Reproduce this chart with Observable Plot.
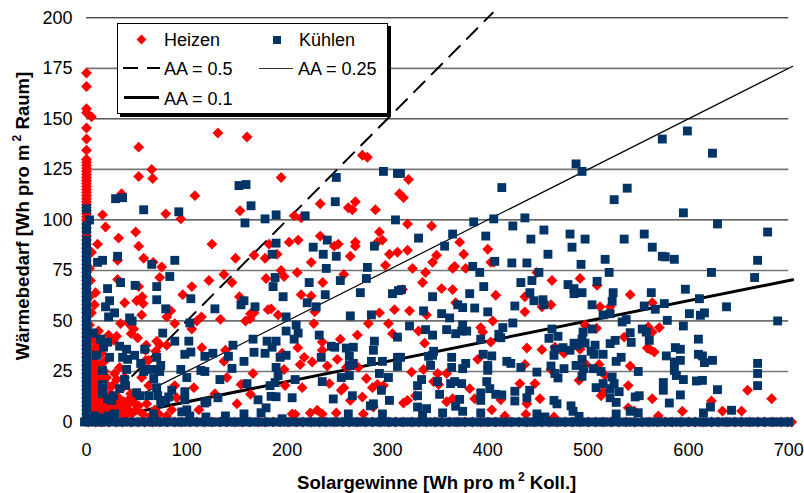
<!DOCTYPE html>
<html><head><meta charset="utf-8">
<script src="https://cdn.jsdelivr.net/npm/d3@7"></script>
<script src="https://cdn.jsdelivr.net/npm/@observablehq/plot@0.6"></script>
<style>
html,body{margin:0;padding:0;background:#fff}
#wrap{position:relative;width:804px;height:493px;font-family:"Liberation Sans",Arial,sans-serif;color:#000;overflow:hidden}
#wrap svg{position:absolute;left:0;top:0}
.t{position:absolute;white-space:nowrap;font-size:18px;line-height:18px}
.title{font-weight:bold;font-size:18.6px;line-height:18px;position:absolute;white-space:nowrap}
.title sup{font-size:12px;line-height:0;vertical-align:8px;margin-left:3px}
#legend{position:absolute;left:117px;top:23px;width:269px;height:89px;background:#fff;border:1px solid #000;box-shadow:3px 3px 0 #000}
.s{position:absolute}
</style></head><body><div id="wrap"></div>
<script>
const xTicks=[0,100,200,300,400,500,600,700];
const yBlack=[50,100,150,200];
const yGray=[25,75,125,175];
const yTicks=[0,25,50,75,100,125,150,175,200];
const lineAA05x=[28,405],lineAA05y=[14,202.5];
const lineAA025x=[28,704],lineAA025y=[7,176];
const lineAA01x=[40,704],lineAA01y=[4,70.4];

const heizenColumnY=[172.7,166,155,153,145.5,140,134.5,130,128.5,127,125.5,124,122.5,121,119.5,118,116.5,115,113.5,112,110.5,109,107.5,106,104.5,103,101.5,100,98,96,94,92,90,88,86,84,82,80,78,76,74,72,70,68,66,64,62,60,58,56,54,52,50,48,46,44,42,40,38,36,34,32,30,28,26,24,22,20,18,16,14,12,10,8,6,4,2];
const heizenBottomX=[2,9,15,22,30,36,44,51,58,66,73,80,88,95,103,110,118,125,133,140,148,155,163,171,178,186,193,201,209,216,224,232,239,247,255,262,270,278,285,293,301,308,316,324,331,339,347,354,362,370,377,385,393,400,408,416,423,431,439,446,454,462,469,477,485,492,500,508,515,523,531,538,546,554,561,569,577,584,592,600,607,615,623,630,638,646,653,661,669,676,684,692,699,703];
const heizenPoints=[[5,151],[52,136],[52,121.5],[65,125],[66,120.5],[131,143],[160,141],[194,121],[108,112],[35,113],[16,102.5],[19,96.5],[32,91],[49,94],[52,87],[11,88],[79,103],[94,100.5],[125,88],[153,104.5],[207,102],[214,101],[233,108],[261,106],[265,105],[268,109],[288,105],[275,132],[280,131],[312,113],[202,89],[211,90],[233,92],[251,88],[247,87],[268,89],[268,87],[292,94],[295,90],[290,89],[182,88],[321,120],[316,111],[320,98],[344,97],[372,89],[400,85.5],[320,85],
[9,64],[8,58],[31,80],[31,70.5],[38,59],[52,67],[50,60],[55.5,62],[56.5,58.6],[55,53],[34,48.7],[42,48.7],[47,46],[44.5,43.7],[51,41.6],[30,42.4],[27,40.4],[12,45],[59.5,38],[70,40],[73,38.4],[80,38],[59,35.5],[69,35],[62,30.5],[59,30.5],[73,71.5],[75,76.7],[57,81],[66.5,79],[105,67],[96,63],[122,70],[137,73],[145,69],[148.5,81],[167,82.5],[178,81],[179,71],[190,83],[194,75],[197,72],[210,74],[224,79],[263,82],[256.5,73],[214,63],[224,62.4],[235.5,69],[227.5,54.5],[226.6,48.7],[270,43],[253,41],[235,39.6],[235,35.5],[250,31],[217,32],[213,28.4],[225,29.7],[240,27.7],[259,27],[271,27],[210.6,36.8],[181,55.6],[184,56],[191,53],[152.5,62],[163.5,53.6],[167,54],[158.5,50],[163,51],[133.5,50.8],[114.6,52],[110,50],[105,46],[88,48.7],[84,55],[80,52],[115,36.8],[138.5,35.5],[137,30],[195,34],[197,26],[166,24],[140,22],[150,9],[163.5,13.7],[154,18.6],[128,14],[107,17],[88,18],[198,18],[215,17],[242,19],[254,15.7],[256.5,17],[275,12.4],[279,21.5],[285,17],[290,18.6],[296,18],[307,55.6],[292,54],[301,48.7],[281,48.7],[302,83],[310,84],[298,77.5],[305,43.7],[205,4],[208,3.8],[223,4.5],[230,5.8],[235,4],[249,4.5],[263,10.7],[276,4],[286,7.4],[56,4],[42,6],[34,9],[47,11.5],[11,7.4],
[325,76],[338,74],[335,69],[345,79],[349,82.5],[365,76],[367,77],[378,76],[376,83],[354,66],[365,65.5],[315,65.5],[322,55],[339,53],[368,59],[408,62.7],[406,79],[403,79],[437,62],[437,54.5],[449,74],[464,70],[492,71],[509,67.6],[454,57],[463,58],[512,57],[522,57],[542,63],[564,59],[405,50],[393,46.7],[395,44.5],[331,45],[337,39],[403,39.6],[439,36.6],[454,35.8],[467,37],[476,34],[492,36],[497,48],[508.5,46.4],[560,47],[564,44.5],[571,46.7],[536,42],[559,36.6],[562,35.8],[566,34.6],[390,31],[437,28.5],[463,26],[498,28.5],[511,28.5],[542,27.7],[324,24.7],[336,26],[350,24],[359,24],[346,20],[351,18.5],[382,16.5],[432,19],[447,19],[491,20.6],[517,23],[540,18],[513,13],[515,15],[452,11.5],[439,9],[413,11],[387,11.5],[365,11.5],[359,10],[320,10.7],[316,9.4],[328,13],[404,6],[438,3.8],[417,3],[466,2.5],[540,7],[546,5.5],[564,11.5],[570,3],[594,5.3],[623,10.4],[634,5.4],[653,5.4],[659,15.7],[683,11.5]];
const heizenCorner=[[4,30],[7,27],[10,24],[13,28],[6,22],[9,18],[12,15],[5,14],[8,11],[15,21],[18,25],[21,18],[24,14],[17,10],[20,6],[14,5],[26,9],[29,6],[23,4],[32,12],[36,17],[6,8],[10,5],[4,5],[28,24],[33,27],[38,22],[44,14],[40,8],[50,6],[60,9],[68,6],[75,10],[85,6],[12,37],[22,43],[8,41],[5,36],[90,12],[112,6],[62,18],[55,22],
[3,26],[5,19],[8,15],[11,11],[14,18],[17,14],[20,22],[23,9],[26,18],[30,21],[3,10],[6,3],[9,7],[13,9],[16,3],[19,4],[24,7],[27,3],[31,4],[35,6],[38,3],[45,4],[52,8],[64,3],[72,4],[80,3],[5,32],[9,34],[15,34],[4,40],[3,48],[5,54],[3,62],[4,70],[3,76],[5,84],
[5,24],[7,31],[10,29],[12,21],[15,26],[18,30],[7,17],[10,13],[13,12],[16,7],[19,17],[22,12],[25,6],[28,10],[33,7],[37,10],[42,11],[48,9],[9,37],[6,12],[4,17]];

const kuhlenColumnY=[105.5,97,95,90,88,86,84,82,80,78,76,74,72,70,68,66,64,62,60,58,56,54,52,50,48,46,44,42,40,38,36,34,32,30,28,26,24,22,20,18,16,14,12,10,8,6,4,2];
const kuhlenNearColumn=[[8,3],[14,2],[22,3],[28,4],[5,44]];
const kuhlenBottomX=[-2,3,9,14,20,26,32,37,43,49,55,61,66,72,78,84,90,95,101,107,113,119,125,130,136,142,148,154,160,165,171,177,183,189,195,200,206,212,218,224,230,235,241,247,253,259,265,270,276,282,288,294,300,305,311,317,323,329,335,340,346,352,358,364,370,375,381,387,393,399,405,410,416,422,428,434,440,445,451,457,463,469,475,480,486,492,498,504,510,515,521,527,533,539,545,550,556,562,568,574,580,585,591,597,603,609,615,620,626,632,638,644,650,655,661,667,673,679,685,690,696,700];
const kuhlenPoints=[[3,100],[29,110.5],[36,111],[57,105],[92,104],[152,117],[159,117.5],[164,107],[158,98.5],[178,100.5],[189,102.5],[218,102],[189,88.5],[240,90],[226,86.5],[249,121],[248,109],[296,124],[310,123],[308,100],[287,87],
[313,123],[414,116],[488,127.7],[494,124],[526,110],[539,115.7],[574,140],[599,144],[624,133],[595,103.5],[629,98],[679,94],[386,99],[406,100.5],[437,101],[425,97],[365,93],[398,92],[456,95],[443,90.5],[482,93],[497,90.5],[536,90.5],[556,93],[331,91],[357,87],[484,86.5],[564,86.5],
[31,82],[11,79],[16,80],[65,78],[88,80],[83,72],[34,69],[21,66],[48.5,67.6],[70,67],[70,60.5],[104,61],[23,60],[19,57],[28,54],[22,52],[43,51.5],[45.5,50],[79,56],[103,49],[128,56],[154,58],[157,60],[168,57],[199,52],[196,62],[186,67],[188,71.5],[185,83],[222,69],[236,83],[239,76],[249,82],[253,70],[280,76.5],[279,71],[273,64],[238,63],[229,57],[220,59],[263,52.5],[284,53],[305,63.5],[311,65],[199,45],[209,48],[211,44],[207,41],[166,41],[232,43],[180,40],[189,40],[185,37],[88,40],[102,40],[76,44],[58,36],[98,33.5],[104,34.6],[118,32.5],[126,34],[141.5,32.5],[146,38],[157,30],[167,34.5],[178,34],[193,32],[199,33],[234,32],[244,37.5],[247.5,37],[259,36.6],[266,37],[262,32.5],[287,40],[286,35.5],[284,30],[295,30],[266,29],[262,28],[310,42],[310,32],[310,27.5],[254,22],[262,23],[235,20],[292,24],[301,22],[208,21],[189,27],[191,23],[188,19.5],[183,18],[160,19],[145,26.5],[133,21],[114,25.5],[118,25],[94,26],[100,22],[70,32],[74,28],[73,25],[67,26],[60,26],[57,25],[40,26],[54,29],[48,33],[41,31],[36,32],[40,36],[33,37.5],[23,32],[10,33],[21,39.5],[14,41],[7,44],[17,37],[16,25.5],[16,18.5],[38,21],[39,18],[33,16.5],[16,14],[21,11.5],[27,13],[25,10.7],[50,14.5],[53,13],[62,13],[67,21.5],[70,17],[71,13],[74,9.4],[79,10.7],[85,15.7],[82,12.4],[98,15],[98,11],[100,6],[95,5],[67,4],[118,9.4],[120,10],[131,12],[171,11],[179,7],[174,4.6],[184,12.7],[189,12.5],[205,12],[246,11.4],[265,13],[283,8],[286,9],[294,15.7],[302,10.7],[295,4],[261,4],[157,4],[138.5,3],[119,2.5],[103,3],[195,1.6],
[385,77],[392,74],[407,79.5],[424,78.7],[439,78.7],[460,83],[493,78],[517,80.5],[521,74],[574,82],[577,81.7],[586,80.5],[623,74],[669,80],[666,71.5],[451,74],[433,69],[444,70],[509,69.6],[480,68],[486,66],[486,63.5],[494,64],[442,64],[396,67],[382,63.5],[345,62],[314,65.5],[525,64],[524,59.7],[563,64],[597,65.7],[611,61],[446,60],[455,60.5],[456,58],[427,57.4],[400,54.5],[387,56.4],[370,58],[375,56.6],[336,55],[354,53.6],[362,51.5],[504,58],[515,53],[522,53.6],[534,49.5],[538,50.7],[556,57.4],[567,55.8],[576,58.6],[579,50.3],[595,47.5],[601,53.6],[612,52.8],[616,54],[638,57],[689,50],[425,49],[322,47.5],[338,45.7],[345,43],[359,45.7],[368,43.7],[375,48],[374,45],[379,45],[393,41],[411,43.4],[415,46.7],[413,41.7],[464,46],[461,41.4],[470,42.4],[504,46],[495,44.5],[494,41],[486,39],[497,39],[489,38],[475,36.8],[482,35.5],[467,36],[466,33],[507,38],[503,35],[506,33.5],[515,33.5],[522,38.8],[527,40.4],[542,44.2],[543,39.4],[554,46],[558,44.5],[561,40.4],[610,41],[587,36.8],[592,36],[610,33.5],[614,32.7],[624,30.5],[616,29.4],[592,30.5],[586,29.7],[578,32.7],[533,32],[528,30],[669,29],[669,24],[669,18],[586,25.6],[588,23],[595,21],[608,20.3],[614,20.6],[550,25],[575,19.5],[575,15.7],[629,16],[592,13.4],[581,9.4],[551,13],[547,12.4],[531,15],[528,9.7],[522,12],[526,19],[522,16.5],[524,22.3],[515,19],[508,17],[513,25],[505,26.4],[494,31],[495.5,26.4],[488,28],[494,22.6],[476,26.4],[470,21.8],[467,24],[463,27.7],[449,24.7],[433,27],[423,29],[419,30],[404,32.7],[395.4,33.5],[400,28],[400,25.6],[375,26.4],[378,29],[364,27],[364,32],[346,35],[345,33],[341,32.5],[343,28],[313,32],[334,21],[330,18],[330,13],[350,20],[352,13.7],[363,19],[367,20],[374,19],[399,20],[402,16.5],[408,13.7],[414,13.4],[393,14.4],[393,10.7],[372,11.2],[368,7.8],[375,5.3],[339,6.6],[330,7.4],[355,4.5],[335,3.3],[393,4.5],[427,15.2],[427,10.4],[441.8,15.7],[439,12],[449,4],[466,10.7],[469,9],[483,8],[485,5.3],[491,2.8],[528,4],[542,5.3],[550,4.6],[615,4.5],[622,7.4],[643,5.8],[457,2.5]];

const heizen=[...heizenColumnY.map(y=>({x:0,y})),...heizenBottomX.map(x=>({x,y:0})),...heizenPoints.map(([x,y])=>({x,y})),...heizenCorner.map(([x,y])=>({x,y}))];
const kuhlen=[...kuhlenColumnY.map(y=>({x:0,y})),...kuhlenBottomX.map(x=>({x,y:0})),...kuhlenPoints.map(([x,y])=>({x,y})),...kuhlenNearColumn.map(([x,y])=>({x,y}))];
const toRows=(xs,ys)=>xs.map((x,i)=>({x,y:ys[i]}));

const plot=Plot.plot({
  width:804,height:493,
  marginLeft:86,marginRight:15.8,marginTop:17.3,marginBottom:71.5,
  style:{fontFamily:'"Liberation Sans",Arial,sans-serif',fontSize:"18px",background:"transparent",color:"#000",overflow:"visible"},
  x:{domain:[0,700]},
  y:{domain:[0,200]},
  marks:[
    Plot.ruleY(yGray,{stroke:"#777",strokeWidth:1.6,x1:0,x2:700}),
    Plot.ruleY(yBlack,{stroke:"#000",strokeWidth:1,x1:0,x2:700}),
    Plot.axisX({ticks:xTicks,tickSize:0,tickPadding:21,tickFormat:d=>String(d),label:null,fontSize:18}),
    Plot.axisY({ticks:yTicks,tickSize:0,tickPadding:14,tickFormat:d=>String(d),label:null,fontSize:18}),
    Plot.line(toRows(lineAA05x,lineAA05y),{x:"x",y:"y",stroke:"#000",strokeWidth:2,strokeDasharray:"15,10"}),
    Plot.line(toRows(lineAA025x,lineAA025y),{x:"x",y:"y",stroke:"#000",strokeWidth:1.2}),
    Plot.line(toRows(lineAA01x,lineAA01y),{x:"x",y:"y",stroke:"#000",strokeWidth:3}),
    Plot.dot(heizen,{x:"x",y:"y",symbol:"diamond2",r:4.9,fill:"#ff0000",stroke:"none"}),
    Plot.dot(kuhlen,{x:"x",y:"y",symbol:"square",r:5,fill:"#003366",stroke:"none"})
  ]
});
const wrap=document.getElementById("wrap");
wrap.appendChild(plot);
const add=(parent,cls,css,html)=>{const d=document.createElement("div");d.className=cls;d.style.cssText=css;if(html)d.innerHTML=html;parent.appendChild(d);return d;};
add(wrap,"title","left:297px;top:474px;","Solargewinne [Wh pro m<sup>2</sup> Koll.]");
add(wrap,"title","left:23px;top:216px;transform:translate(-50%,-50%) rotate(-90deg);","Wärmebedarf [Wh pro m<sup>2</sup> Raum]");
const legend=add(wrap,"","","");legend.id="legend";
add(legend,"s","left:20px;top:12px;width:7px;height:7px;background:#ff0000;transform:rotate(45deg);");
add(legend,"s","left:155px;top:12px;width:8px;height:8px;background:#003366;");
add(legend,"t","left:46px;top:7px;","Heizen");
add(legend,"t","left:181px;top:7px;","Kühlen");
add(legend,"s","left:5px;top:43px;width:15px;height:2px;background:#000;");
add(legend,"s","left:29px;top:43px;width:13px;height:2px;background:#000;");
add(legend,"t","left:46px;top:36px;","AA = 0.5");
add(legend,"s","left:141px;top:44px;width:34px;height:1px;background:#333;");
add(legend,"t","left:180px;top:36px;","AA = 0.25");
add(legend,"s","left:6px;top:72px;width:35px;height:3px;background:#000;");
add(legend,"t","left:46px;top:66px;","AA = 0.1");
</script></body></html>
